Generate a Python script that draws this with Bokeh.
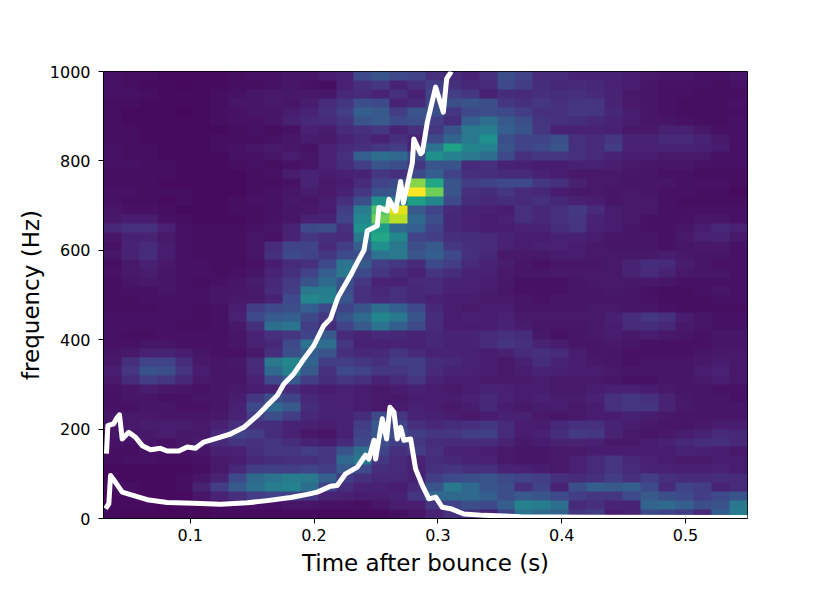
import numpy as np
from bokeh.embed import file_html
from bokeh.models import FixedTicker, LinearColorMapper
from bokeh.palettes import Viridis256
from bokeh.plotting import figure
from bokeh.resources import INLINE

# spectrogram extent
t_min, t_max = 0.03, 0.55
f_min, f_max = 0.0, 1000.0

# spectrogram power (percent of peak), rows go from 1000 Hz down to 0 Hz
power_rows = [
    [5,4,4,3,3,3,3,4,5,5,6,6,8,10,22,26,22,20,14,12,10,14,24,20,12,12,10,10,10,8,7,6,6,5,5,6],
    [5,4,3,3,2,3,3,4,4,5,6,5,4,9,14,16,10,14,18,14,11,12,22,18,13,11,12,11,9,8,6,5,5,5,4,5],
    [5,5,4,3,3,3,4,5,6,7,7,7,6,11,12,10,14,9,20,18,16,9,13,12,14,13,14,12,10,7,6,5,5,4,4,4],
    [4,4,3,3,3,3,4,6,6,7,6,8,12,16,24,22,10,12,22,24,26,24,16,14,16,14,15,15,10,7,6,5,4,4,4,5],
    [4,3,3,3,2,3,4,5,6,6,8,10,14,18,30,28,18,26,24,16,22,24,22,18,14,14,16,15,11,8,6,5,4,4,4,4],
    [4,3,3,3,3,3,4,5,5,6,9,11,12,15,26,28,22,24,18,13,30,36,28,24,15,14,13,11,10,8,6,6,5,4,4,5],
    [4,4,3,3,3,3,3,4,5,4,5,9,8,12,14,16,10,14,16,26,40,42,30,26,16,10,9,10,9,7,7,9,9,7,5,5],
    [4,4,3,3,3,3,4,4,4,5,6,8,7,10,12,10,14,10,22,32,40,50,24,20,20,24,14,12,16,10,10,12,12,10,7,5],
    [5,4,4,3,3,3,4,5,6,7,6,5,9,12,14,16,18,9,38,58,46,44,26,20,22,26,14,12,18,9,9,10,10,9,8,5],
    [5,4,4,3,3,3,3,5,5,6,8,6,9,14,30,36,34,22,50,44,40,36,22,14,16,16,14,12,10,8,8,7,7,7,5,5],
    [5,5,4,4,3,3,3,4,5,4,5,6,9,13,18,26,24,16,26,26,12,14,10,9,8,8,9,9,8,7,6,6,6,5,5,5],
    [4,4,4,4,3,3,3,3,4,5,8,10,8,9,10,16,14,22,30,20,14,13,12,12,9,8,7,7,7,6,6,5,5,4,4,4],
    [4,4,4,3,3,3,3,3,4,4,5,10,7,8,12,20,22,82,60,26,18,20,22,22,16,14,9,7,7,6,6,6,5,5,5,4],
    [5,5,4,4,4,3,3,3,4,5,6,8,7,9,16,25,26,100,78,26,14,13,16,12,11,8,7,7,6,7,6,5,5,4,4,3],
    [5,4,4,3,4,3,3,4,5,5,7,6,8,14,24,50,38,56,46,22,13,11,13,12,14,11,9,8,6,7,7,5,4,4,4,4],
    [6,5,5,4,3,3,3,4,4,5,6,7,8,18,42,72,96,28,20,12,10,9,8,14,11,14,17,12,8,7,7,5,5,5,5,5],
    [7,8,8,5,4,3,3,3,4,5,6,9,10,20,46,78,90,34,24,11,9,8,9,14,11,14,16,10,8,7,5,5,5,6,6,5],
    [11,14,14,9,5,4,4,4,5,6,10,22,24,14,50,55,34,30,20,11,10,8,8,9,10,13,15,9,8,6,5,5,6,8,11,9],
    [6,9,10,7,5,4,4,4,6,5,10,16,14,12,40,60,46,20,18,14,13,12,10,8,8,9,9,8,6,6,6,5,7,9,10,7],
    [5,10,12,8,5,4,4,4,6,12,20,20,12,18,30,50,40,24,28,16,14,12,9,8,9,9,8,7,6,6,6,5,6,7,7,5],
    [6,10,13,8,5,4,4,4,6,14,22,20,16,22,24,38,40,26,30,22,14,11,7,7,7,8,8,7,7,7,7,8,7,6,6,5],
    [4,7,9,7,5,5,4,4,5,8,12,14,22,38,28,18,16,12,22,18,12,10,8,6,5,6,6,6,7,10,13,12,8,6,5,5],
    [5,7,8,6,5,5,4,5,6,10,14,20,30,40,22,16,12,9,15,13,10,9,7,6,6,7,7,7,7,10,12,10,7,6,6,5],
    [4,6,7,6,5,4,5,6,8,11,17,26,34,25,16,10,9,12,12,10,9,8,7,5,5,5,6,7,7,7,7,6,5,5,5,5],
    [4,5,5,6,5,5,6,6,7,12,18,40,42,24,14,11,14,11,12,9,9,8,6,5,5,5,6,6,7,6,5,4,4,5,6,5],
    [4,4,5,5,5,5,6,7,7,10,22,46,44,26,14,12,14,11,9,8,8,7,7,6,5,6,6,6,6,6,5,4,4,4,5,5],
    [4,4,4,5,5,4,5,8,18,22,24,30,22,20,26,36,30,22,11,8,7,8,8,6,6,6,6,7,7,6,6,5,4,4,4,4],
    [5,5,5,5,5,4,5,9,22,28,30,22,16,26,34,46,40,26,13,8,9,8,9,7,7,7,7,7,9,13,16,14,8,6,5,5],
    [5,5,5,5,4,4,5,7,14,36,38,18,13,20,28,38,30,22,12,8,8,8,10,8,6,6,6,7,8,12,13,11,7,6,5,5],
    [5,4,4,5,5,5,5,6,10,14,16,20,28,12,10,12,11,10,11,10,10,12,14,13,7,5,6,7,8,7,8,7,6,5,6,6],
    [5,5,6,6,5,5,5,6,9,11,22,38,36,16,9,9,10,9,11,10,10,12,15,14,10,8,6,6,7,6,5,5,5,5,6,6],
    [6,7,9,10,8,6,5,5,7,14,24,30,26,14,11,12,15,12,10,10,9,8,9,12,14,12,8,6,6,5,5,5,5,6,7,7],
    [7,14,20,20,13,7,6,7,12,40,46,32,18,18,16,14,18,18,13,11,10,8,7,9,13,10,8,7,6,5,6,6,6,7,8,7],
    [8,16,25,24,15,8,6,6,12,34,44,28,14,22,20,16,16,18,12,10,9,8,7,8,10,9,8,8,7,6,6,6,6,8,9,7],
    [7,12,18,16,11,7,6,6,9,22,28,18,13,16,14,10,12,16,10,8,8,7,7,7,8,7,7,7,6,5,5,6,6,7,8,7],
    [5,6,8,7,6,5,6,7,8,10,12,9,8,9,8,7,8,9,8,7,8,10,9,8,8,7,7,8,9,9,8,7,6,6,5,5],
    [5,6,6,5,5,6,6,8,16,24,20,11,9,9,8,7,7,8,8,8,9,11,9,8,9,8,8,9,14,16,14,10,7,6,6,5],
    [5,5,6,6,5,5,6,9,22,34,28,13,10,9,8,7,8,9,8,7,8,11,8,7,8,8,7,8,14,16,15,10,7,6,6,6],
    [6,7,7,6,6,6,7,10,18,24,18,11,9,10,13,22,16,10,9,8,7,8,9,9,7,6,7,8,8,9,8,7,6,6,6,6],
    [6,7,8,8,8,7,9,14,14,13,10,9,8,10,18,28,20,14,11,13,14,16,12,8,8,11,14,14,10,8,7,6,6,7,8,8],
    [6,6,7,8,7,7,12,20,18,13,9,7,6,9,20,28,24,18,15,16,18,19,12,8,9,13,17,16,10,7,6,7,8,10,12,11],
    [5,5,6,5,6,8,12,15,14,15,13,10,8,12,22,24,18,16,13,12,12,12,10,7,8,9,10,9,7,7,8,9,11,13,14,11],
    [4,4,5,4,5,6,9,9,14,16,16,18,16,26,36,20,14,18,14,10,9,8,7,6,6,7,7,8,8,8,8,8,10,9,8,7],
    [4,5,5,4,4,5,7,8,11,13,14,14,16,34,40,16,12,10,13,11,10,9,7,6,6,7,9,12,15,11,9,8,7,7,8,8],
    [3,3,3,3,3,4,7,11,18,19,18,20,18,28,22,13,12,9,14,15,14,14,10,9,8,7,9,12,15,12,10,9,9,9,9,8],
    [3,3,3,3,4,6,10,22,34,38,42,40,30,18,14,11,11,9,18,22,24,26,22,20,18,14,12,14,18,14,18,14,12,12,13,12],
    [4,4,3,3,4,10,18,28,36,42,44,36,20,13,10,9,8,12,26,40,34,26,24,14,20,10,24,30,28,30,22,12,20,18,10,12],
    [3,3,3,3,3,6,10,14,18,20,20,16,10,9,8,8,9,16,34,34,34,30,24,28,26,22,18,16,16,22,28,24,22,18,22,26],
    [3,3,3,2,2,2,3,4,5,5,6,6,5,5,4,6,8,8,16,20,24,22,30,44,42,36,12,14,10,10,32,34,30,24,26,40],
    [3,2,2,2,2,2,3,3,3,3,3,3,3,3,3,3,4,6,10,14,14,10,20,38,34,32,16,18,8,10,22,20,18,12,30,42],
]

# upper white curve
upper_t = [0.0324, 0.0335, 0.0383, 0.0403, 0.0429, 0.0451, 0.0504, 0.0558, 0.0613, 0.068,
           0.076, 0.0814, 0.0908, 0.0976, 0.1043, 0.111, 0.1218, 0.1326, 0.1433, 0.1541,
           0.1622, 0.1703, 0.1756, 0.1837, 0.1918, 0.1999, 0.2079, 0.2133, 0.2188, 0.2201,
           0.2295, 0.2349, 0.2403, 0.243, 0.2511, 0.2524, 0.2591, 0.2605, 0.2659, 0.2699,
           0.2721, 0.2794, 0.2806, 0.2861, 0.2875, 0.2915, 0.2982, 0.3044, 0.3071, 0.3109]
upper_f = [145, 208, 212, 223, 232, 178, 193, 182, 163, 154,
           157, 151, 151, 160, 157, 171, 180, 189, 204, 230,
           253, 275, 301, 324, 357, 387, 432, 447, 491, 499,
           544, 573, 600, 644, 655, 696, 688, 714, 688, 754,
           706, 796, 849, 816, 820, 887, 965, 909, 984, 1000]

# lower white curve
lower_t = [0.0316, 0.0343, 0.0357, 0.0397, 0.0451, 0.0545, 0.0653, 0.0814, 0.103, 0.1245,
           0.1461, 0.1622, 0.1811, 0.1945, 0.2026, 0.2133, 0.2187, 0.2255, 0.2349, 0.2416,
           0.2443, 0.2484, 0.2497, 0.2551, 0.2586, 0.2613, 0.2645, 0.2672, 0.2699, 0.2726,
           0.278, 0.282, 0.2874, 0.2928, 0.2982, 0.3036, 0.3103, 0.321, 0.3372, 0.3668,
           0.4207, 0.55]
lower_f = [22, 33, 96, 81, 59, 51, 42, 36, 34, 32,
           35, 40, 47, 54, 59, 72, 74, 100, 115, 142,
           133, 175, 133, 223, 178, 249, 238, 178, 204, 175,
           178, 111, 74, 44, 48, 25, 22, 10, 7, 4,
           3, 2]

p = figure(frame_width=644, frame_height=447,
           x_range=(t_min, t_max), y_range=(f_min, f_max),
           min_border_left=103, min_border_right=60, min_border_top=71, min_border_bottom=60,
           output_backend="svg", toolbar_location=None)

power = np.array(power_rows[::-1], dtype=float)
mapper = LinearColorMapper(palette=Viridis256, low=0, high=100)
p.image(image=[power], x=t_min, y=f_min, dw=t_max - t_min, dh=f_max - f_min, color_mapper=mapper)

p.line(upper_t, upper_f, line_color="white", line_width=5, line_join="round")
p.line(lower_t, lower_f, line_color="white", line_width=5, line_join="round")

p.grid.visible = False
p.outline_line_color = "black"
p.outline_line_width = 1
p.outline_line_alpha = 1

p.xaxis.ticker = FixedTicker(ticks=[0.1, 0.2, 0.3, 0.4, 0.5])
p.yaxis.ticker = FixedTicker(ticks=[0, 200, 400, 600, 800, 1000])
p.xaxis.axis_label = "Time after bounce (s)"
p.yaxis.axis_label = "frequency (Hz)"

for ax in [p.xaxis[0], p.yaxis[0]]:
    ax.axis_line_color = "black"
    ax.major_tick_line_color = "black"
    ax.minor_tick_line_color = None
    ax.major_tick_in = 0
    ax.major_tick_out = 5
    ax.major_label_text_font = "DejaVu Sans"
    ax.major_label_text_font_size = "16px"
    ax.major_label_text_color = "black"
    ax.major_label_standoff = 5
    ax.axis_label_text_font = "DejaVu Sans"
    ax.axis_label_text_font_size = "23px"
    ax.axis_label_text_font_style = "normal"
    ax.axis_label_text_color = "black"
    ax.axis_label_standoff = 6
p.yaxis[0].major_label_standoff = 8
p.yaxis[0].axis_label_standoff = 3

open("out.html", "w").write(file_html(p, INLINE))
